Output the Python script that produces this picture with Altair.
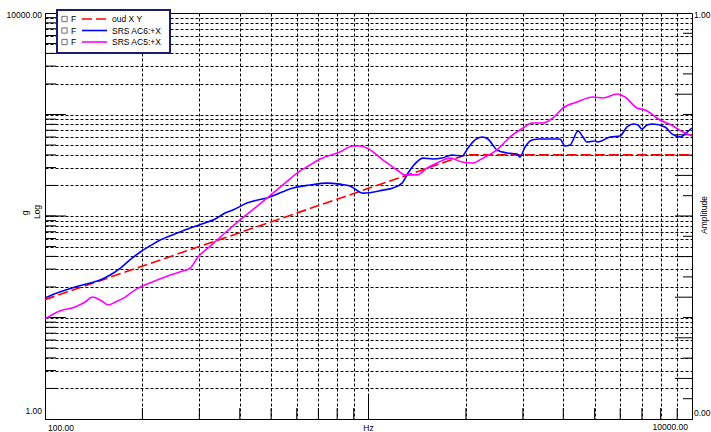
import altair as alt
import pandas as pd

# ---- series ----
series_names = ["oud X Y", "SRS AC6:+X", "SRS AC5:+X"]
series_colors = ["#ff0000", "#0000ff", "#ff00ff"]

spec_hz = [100, 2000, 10000]
spec_g = [15, 400, 400]

ac6_hz = [100, 111, 124, 138, 148, 159, 171, 183, 197, 211, 227, 252, 281, 312, 336,
          360, 381, 421, 496, 584, 659, 745, 816, 877, 962, 1109, 1191, 1270, 1325,
          1374, 1473, 1583, 1687, 1811, 1945, 2031, 2134, 2244, 2340, 2495, 2680,
          2877, 2938, 3048, 3200, 3388, 3639, 3908, 4047, 4198, 4446, 4603, 4732,
          5012, 5117, 5585, 5985, 6295, 6577, 6808, 7000, 7261, 7568, 8255, 8670,
          9183, 9660, 10000]
ac6_g = [15.6, 17.8, 20.0, 21.9, 23.4, 26.2, 30.7, 36.9, 44.2, 50.6, 58.0, 66.5, 76.2,
         85.3, 93.4, 107, 114.6, 134, 154, 189, 202, 211, 206, 198, 168, 180, 189, 211,
         265, 311, 372, 364, 372, 399, 390, 468, 561, 600, 574, 447, 418, 408, 381,
         479, 561, 574, 574, 574, 490, 501, 687, 600, 536, 548, 536, 600, 614, 753,
         806, 788, 719, 788, 806, 753, 643, 600, 672, 736]

ac5_hz = [100, 111, 124, 133, 140, 148, 157, 165, 177, 190, 211, 235, 261, 281, 297,
          324, 360, 401, 446, 507, 552, 601, 659, 708, 816, 896, 941, 989, 1109, 1225,
          1297, 1413, 1517, 1629, 1786, 1945, 2104, 2259, 2495, 2737, 3006, 3200,
          3459, 3717, 3990, 4416, 4943, 5309, 5861, 6209, 6761, 7161, 7962, 8731,
          9376, 10000]
ac5_g = [9.7, 11.6, 12.7, 14.2, 15.9, 14.9, 13.3, 14.2, 15.9, 18.7, 21.9, 25.1, 28.1,
         30.7, 39.4, 50.6, 68.0, 91.4, 120, 168, 211, 265, 318, 364, 427, 490, 490,
         468, 356, 284, 254, 254, 297, 333, 372, 340, 333, 372, 447, 600, 736, 824,
         824, 924, 1159, 1328, 1487, 1455, 1592, 1487, 1159, 1107, 883, 771, 672, 614]

# ---- axes: grid values, tick marks, labels ----
x_grid = [200, 300, 400, 500, 600, 700, 800, 900, 1000,
          2000, 3000, 4000, 5000, 6000, 7000, 8000, 9000]
x_major = [1000]
x_labels = [100, 10000]
y_grid = [2, 3, 4, 5, 6, 7, 8, 9, 10,
          20, 30, 40, 50, 60, 70, 80, 90, 100,
          200, 300, 400, 500, 600, 700, 800, 900, 1000,
          2000, 3000, 4000, 5000, 6000, 7000, 8000, 9000]
y_major = [10, 100, 1000]
amp_ticks = [0.05, 0.1, 0.15, 0.2, 0.25, 0.3, 0.35, 0.4, 0.45, 0.5,
             0.55, 0.6, 0.65, 0.7, 0.75, 0.8, 0.85, 0.9, 0.95]

W, H = 647, 406
FONT = "Liberation Sans"

xs = alt.Scale(type="log", domain=[100, 10000], nice=False)
ys = alt.Scale(type="log", domain=[1, 10000], nice=False)
grid_style = dict(grid=True, gridColor="black", gridDash=[3, 2], gridWidth=1,
                  gridOpacity=1, ticks=False, labels=False, domain=True,
                  domainColor="black", domainWidth=1, title=None)
xax = alt.Axis(values=x_grid, **grid_style)
yax = alt.Axis(values=y_grid, **grid_style)


def X(field):
    return alt.X(f"{field}:Q", scale=xs, axis=xax)


def Y(field):
    return alt.Y(f"{field}:Q", scale=ys, axis=yax)


color = alt.Color("series:N", scale=alt.Scale(domain=series_names, range=series_colors),
                  legend=None)


def curve(hz, g, name, interp="monotone", **kw):
    df = pd.DataFrame({"hz": hz, "g": g, "series": name})
    return alt.Chart(df).mark_line(strokeWidth=1.6, interpolate=interp, **kw).encode(
        x=X("hz"), y=Y("g"), color=color)


layers = []

# inward ticks on the left axis
ydf = pd.DataFrame({"v": y_grid})
layers.append(alt.Chart(ydf).mark_rule(color="black", strokeWidth=1).encode(
    y=Y("v"), x=alt.value(0), x2=alt.value(11)))
layers.append(alt.Chart(pd.DataFrame({"v": y_major})).mark_rule(color="black", strokeWidth=1).encode(
    y=Y("v"), x=alt.value(0), x2=alt.value(21)))

# inward ticks on the bottom axis
layers.append(alt.Chart(pd.DataFrame({"hz": x_grid})).mark_rule(color="black", strokeWidth=1).encode(
    x=X("hz"), y=alt.value(H), y2=alt.value(H - 11)))
layers.append(alt.Chart(pd.DataFrame({"hz": x_major})).mark_rule(color="black", strokeWidth=1).encode(
    x=X("hz"), y=alt.value(H), y2=alt.value(H - 23)))

# right amplitude axis (linear 0..1 over the same height)
amp = alt.Chart(pd.DataFrame({"a": amp_ticks})).transform_calculate(
    v="pow(10, 4 * datum.a)",
    major="abs(datum.a * 10 - round(datum.a * 10)) < 0.001")
layers.append(amp.transform_filter("!datum.major").mark_rule(color="black", strokeWidth=1).encode(
    y=Y("v"), x=alt.value(W), x2=alt.value(W - 9)))
layers.append(amp.transform_filter("datum.major").mark_rule(color="black", strokeWidth=1).encode(
    y=Y("v"), x=alt.value(W), x2=alt.value(W - 17)))

# curves
layers.append(curve(spec_hz, spec_g, series_names[0], interp="linear", strokeDash=[10, 4]))
layers.append(curve(ac6_hz, ac6_g, series_names[1]))
layers.append(curve(ac5_hz, ac5_g, series_names[2]))

# axis labels
txt = dict(font=FONT, fontSize=8.5, color="black")
layers.append(alt.Chart(pd.DataFrame({"v": [10000]})).mark_text(
    align="right", baseline="middle", dx=-3, dy=2, **txt).encode(
    y=Y("v"), x=alt.value(0), text=alt.Text("v:Q", format=".2f")))
layers.append(alt.Chart(pd.DataFrame({"v": [1]})).mark_text(
    align="right", baseline="middle", dx=-3, dy=-8, **txt).encode(
    y=Y("v"), x=alt.value(0), text=alt.Text("v:Q", format=".2f")))
layers.append(alt.Chart(pd.DataFrame({"hz": x_labels[:1]})).mark_text(
    align="left", baseline="middle", dx=3, **txt).encode(
    x=X("hz"), y=alt.value(H + 9), text=alt.Text("hz:Q", format=".2f")))
layers.append(alt.Chart(pd.DataFrame({"hz": x_labels[1:]})).mark_text(
    align="right", baseline="middle", dx=-4, **txt).encode(
    x=X("hz"), y=alt.value(H + 8), text=alt.Text("hz:Q", format=".2f")))
layers.append(alt.Chart(pd.DataFrame({"hz": [1000], "t": ["Hz"]})).mark_text(
    align="center", baseline="middle", **txt).encode(
    x=X("hz"), y=alt.value(H + 9), text="t:N"))

amp_lab = alt.Chart(pd.DataFrame({"a": [1.0, 0.0]})).transform_calculate(v="pow(10, 4 * datum.a)")
layers.append(amp_lab.transform_filter("datum.a > 0.5").mark_text(
    align="left", baseline="middle", dy=2, **txt).encode(
    y=Y("v"), x=alt.value(W + 2), text=alt.Text("a:Q", format=".2f")))
layers.append(amp_lab.transform_filter("datum.a < 0.5").mark_text(
    align="left", baseline="middle", dy=-6, **txt).encode(
    y=Y("v"), x=alt.value(W + 2), text=alt.Text("a:Q", format=".2f")))

# axis titles
for t, px, py in [("g", -20, 200), ("Log", -8, 199), ("Amplitude", W + 12, 202)]:
    layers.append(alt.Chart(pd.DataFrame({"t": [t]})).mark_text(
        angle=270, align="center", baseline="middle", **txt).encode(
        x=alt.value(px), y=alt.value(py), text="t:N"))

# legend box
one = pd.DataFrame({"k": [0]})
layers.append(alt.Chart(one).mark_rect(fill="white", stroke="#1c1c6c", strokeWidth=2).encode(
    x=alt.value(12), x2=alt.value(125), y=alt.value(-3), y2=alt.value(40)))
for i, name in enumerate(series_names):
    ry = 6 + i * 11.5
    row = pd.DataFrame({"series": [name], "f": ["F"]})
    base = alt.Chart(row)
    layers.append(base.mark_point(shape="square", filled=False, size=28, color="#333333",
                                  strokeWidth=1).encode(x=alt.value(19.5), y=alt.value(ry)))
    layers.append(base.mark_text(align="left", baseline="middle", **txt).encode(
        x=alt.value(26), y=alt.value(ry), text="f:N"))
    kw = {"strokeDash": [10, 4]} if i == 0 else {}
    layers.append(base.mark_rule(strokeWidth=1.6, **kw).encode(
        x=alt.value(37), x2=alt.value(62), y=alt.value(ry), color=color))
    layers.append(base.mark_text(align="left", baseline="middle", **txt).encode(
        x=alt.value(67), y=alt.value(ry), text="series:N"))

chart = alt.layer(*layers).properties(
    width=W, height=H,
    autosize=alt.AutoSizeParams(type="none"),
    padding={"left": 45, "top": 13, "right": 19, "bottom": 13},
    background="white",
).configure_view(stroke="black", strokeWidth=1)

chart.save("out.html", embed_options={"renderer": "svg", "actions": False})
